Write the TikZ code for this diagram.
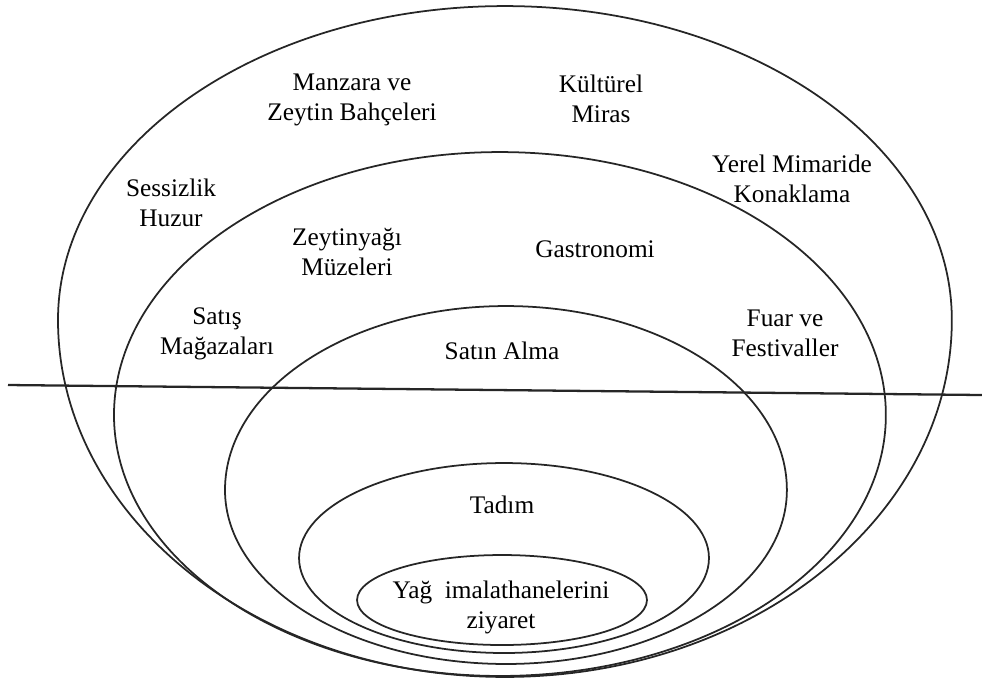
\documentclass[tikz,border=0pt]{standalone}
\usepackage{fontspec}
\setmainfont{Liberation Serif}

\begin{document}
\begin{tikzpicture}[x=0.02cm, y=-0.02cm,
    ring/.style={line width=1pt, black!85},
    lbl/.style={align=center, inner sep=0pt, font=\fontsize{14.4pt}{17pt}\selectfont}]
    \useasboundingbox (0,0) rectangle (982,681);

    % Rings (upper half and lower half)
    \draw[ring] (58,320) arc[start angle=180, end angle=0, x radius=8.94cm, y radius=6.28cm]
        arc[start angle=0, end angle=-180, x radius=8.94cm, y radius=7.14cm] -- cycle;
    \draw[ring] (114,415) arc[start angle=180, end angle=0, x radius=7.72cm, y radius=5.26cm]
        arc[start angle=0, end angle=-180, x radius=7.72cm, y radius=5.22cm] -- cycle;
    \draw[ring] (225,490) arc[start angle=180, end angle=0, x radius=5.62cm, y radius=3.68cm]
        arc[start angle=0, end angle=-180, x radius=5.62cm, y radius=3.48cm] -- cycle;
    \draw[ring] (504,558) ellipse [x radius=4.1cm, y radius=1.9cm];
    \draw[ring] (502,600) ellipse [x radius=2.9cm, y radius=0.9cm];

    % Dividing line
    \coordinate (lineW) at (8,385);
    \coordinate (lineE) at (982,395);
    \draw[line width=1.3pt, black!85] (lineW) -- (lineE);

    % Labels
    \node[lbl] (manzara) at (352,100) {Manzara ve\\Zeytin Bahçeleri};
    \node[lbl] (miras) at (601,99) {Kültürel\\Miras};
    \node[lbl] (konaklama) at (792,179) {Yerel Mimaride\\Konaklama};
    \node[lbl] (huzur) at (171,203) {Sessizlik\\Huzur};
    \node[lbl] (muze) at (347,252) {Zeytinyağı\\Müzeleri};
    \node[lbl] (gastro) at (595,249) {Gastronomi};
    \node[lbl] (satis) at (217,334) {Satış\\Mağazaları};
    \node[lbl] (fuar) at (785,333) {Fuar ve\\Festivaller};
    \node[lbl] (satinalma) at (502,351) {Satın Alma};
    \node[lbl] (tadim) at (502,505) {Tadım};
    \node[lbl] (imalat) at (501,607) {Yağ\ \ imalathanelerini\\ziyaret};
\end{tikzpicture}
\end{document}
